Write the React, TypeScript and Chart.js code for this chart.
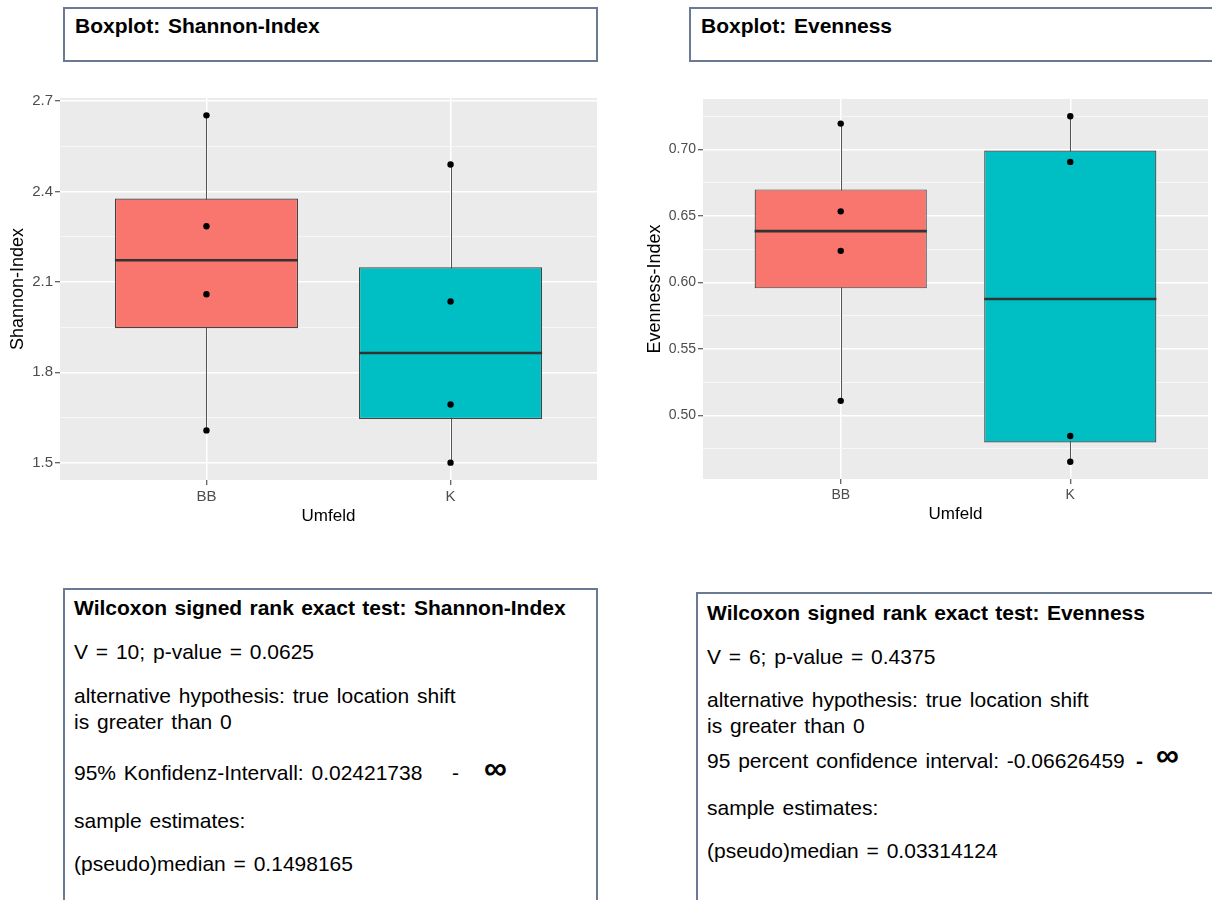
import React, { useEffect, useRef } from 'react';
import { Chart, registerables } from 'chart.js';

Chart.register(...registerables);

// ---------- data ----------
const categories = ['BB', 'K'];
const shannonBB = [2.653, 2.285, 2.059, 1.607];
const shannonK = [2.49, 2.035, 1.693, 1.5];
const shannonMajorTicks = [1.5, 1.8, 2.1, 2.4, 2.7];
const evennessBB = [0.7195, 0.6535, 0.6238, 0.511];
const evennessK = [0.725, 0.6907, 0.4845, 0.4652];
const evennessMajorTicks = [0.5, 0.55, 0.6, 0.65, 0.7];
const groupColors = ['#F8766D', '#00BFC4'];

const shannonTestTitle = 'Wilcoxon signed rank exact test: Shannon-Index';
const shannonTestLines = [
  'V = 10; p-value = 0.0625',
  'alternative hypothesis: true location shift',
  'is greater than 0',
  '95% Konfidenz-Intervall: 0.02421738',
  'sample estimates:',
  '(pseudo)median = 0.1498165',
];
const evennessTestTitle = 'Wilcoxon signed rank exact test: Evenness';
const evennessTestLines = [
  'V = 6; p-value = 0.4375',
  'alternative hypothesis: true location shift',
  'is greater than 0',
  '95 percent confidence interval: -0.06626459',
  'sample estimates:',
  '(pseudo)median = 0.03314124',
];

const FONT = '"Liberation Sans", Arial, Helvetica, sans-serif';

// ---------- helpers ----------
function quantile(sorted: number[], p: number) {
  const h = (sorted.length - 1) * p;
  const lo = Math.floor(h);
  const hi = Math.ceil(h);
  return sorted[lo] + (h - lo) * (sorted[hi] - sorted[lo]);
}
function boxStats(values: number[]) {
  const s = [...values].sort((a, b) => a - b);
  return {
    min: s[0],
    q1: quantile(s, 0.25),
    median: quantile(s, 0.5),
    q3: quantile(s, 0.75),
    max: s[s.length - 1],
  };
}

type ChartProps = {
  groups: number[][];
  majorTicks: number[];
  decimals: number;
  yTitle: string;
  left: number;
  top: number;
  width: number;
  height: number;
  padTop: number;
  padRight: number;
  yAxisWidth: number;
  xAxisHeight: number;
  yTitlePad: number;
  xTitlePad: number;
  tickFont: number;
  yTitleFont: number;
  xTitleFont: number;
};

function BoxChart(props: ChartProps) {
  const ref = useRef<HTMLCanvasElement | null>(null);
  useEffect(() => {
    const p = props;
    const stats = p.groups.map(boxStats);
    const all = p.groups.flat();
    const lo = Math.min(...all);
    const hi = Math.max(...all);
    const span = hi - lo;
    const yMin = lo - 0.05 * span;
    const yMax = hi + 0.05 * span;
    const step = p.majorTicks[1] - p.majorTicks[0];
    const tickDefs: { value: number; isMajor: boolean }[] = [];
    p.majorTicks.forEach((m) => {
      tickDefs.push({ value: m - step / 2, isMajor: false });
      tickDefs.push({ value: m, isMajor: true });
    });
    tickDefs.push({ value: p.majorTicks[p.majorTicks.length - 1] + step / 2, isMajor: false });
    const visibleTicks = tickDefs.filter((t) => t.value >= yMin && t.value <= yMax);

    const bgPlugin = {
      id: 'panelBg',
      beforeDraw(chart: any) {
        const { ctx, chartArea } = chart;
        ctx.save();
        ctx.fillStyle = '#EBEBEB';
        ctx.fillRect(chartArea.left, chartArea.top, chartArea.right - chartArea.left, chartArea.bottom - chartArea.top);
        ctx.restore();
      },
    };
    const whiskerPlugin = {
      id: 'whiskers',
      beforeDatasetsDraw(chart: any) {
        const { ctx, scales } = chart;
        ctx.save();
        ctx.strokeStyle = '#555555';
        ctx.lineWidth = 1;
        stats.forEach((s, i) => {
          const x = Math.round(scales.x.getPixelForValue(i)) + 0.5;
          ctx.beginPath();
          ctx.moveTo(x, scales.y.getPixelForValue(s.max));
          ctx.lineTo(x, scales.y.getPixelForValue(s.min));
          ctx.stroke();
        });
        ctx.restore();
      },
    };
    const medianPlugin = {
      id: 'medians',
      afterDatasetDraw(chart: any, args: any) {
        if (args.meta.type !== 'bar') return;
        const { ctx, scales } = chart;
        ctx.save();
        ctx.strokeStyle = '#333333';
        ctx.lineWidth = 2.6;
        args.meta.data.forEach((el: any, i: number) => {
          const y = scales.y.getPixelForValue(stats[i].median);
          ctx.beginPath();
          ctx.moveTo(el.x - el.width / 2, y);
          ctx.lineTo(el.x + el.width / 2, y);
          ctx.stroke();
        });
        ctx.restore();
      },
    };

    const chart = new Chart(ref.current as HTMLCanvasElement, {
      type: 'bar',
      data: {
        datasets: [
          {
            type: 'bar',
            data: stats.map((s, i) => ({ x: i, y: [s.q1, s.q3] })) as any,
            backgroundColor: groupColors,
            borderColor: '#444444',
            borderWidth: 1.2,
            borderSkipped: false,
            barPercentage: 0.75,
            categoryPercentage: 1,
            order: 2,
          } as any,
          {
            type: 'scatter',
            data: p.groups.flatMap((g, i) => g.map((v) => ({ x: i, y: v }))),
            backgroundColor: '#000000',
            borderColor: '#000000',
            borderWidth: 0,
            pointRadius: 3.2,
            order: 1,
          } as any,
        ],
      },
      options: {
        responsive: false,
        animation: false,
        devicePixelRatio: 1,
        layout: { padding: { top: p.padTop, right: p.padRight, left: 0, bottom: 0 } },
        plugins: { legend: { display: false }, tooltip: { enabled: false } },
        scales: {
          x: {
            type: 'linear',
            min: -0.6,
            max: categories.length - 1 + 0.6,
            offset: false,
            border: { display: false },
            grid: {
              offset: false,
              color: '#FFFFFF',
              lineWidth: 1.5,
              drawTicks: true,
              tickLength: 5,
              tickColor: '#333333',
              tickWidth: 1,
            },
            ticks: {
              autoSkip: false,
              maxRotation: 0,
              padding: 3,
              color: '#4D4D4D',
              font: { family: FONT, size: p.tickFont },
              callback: (v: any) => categories[v] ?? '',
            },
            afterBuildTicks: (s: any) => {
              s.ticks = categories.map((_, i) => ({ value: i }));
            },
            afterFit: (s: any) => {
              s.height = p.xAxisHeight;
            },
            title: {
              display: true,
              text: 'Umfeld',
              color: '#000000',
              font: { family: FONT, size: p.xTitleFont },
              padding: { top: 0, bottom: p.xTitlePad },
            },
          },
          y: {
            type: 'linear',
            min: yMin,
            max: yMax,
            border: { display: false },
            grid: {
              color: (c: any) => (c.tick && c.tick.isMajor ? '#FFFFFF' : '#F7F7F7'),
              lineWidth: (c: any) => (c.tick && c.tick.isMajor ? 1.5 : 1),
              drawTicks: true,
              tickLength: 5,
              tickColor: (c: any) => (c.tick && c.tick.isMajor ? '#333333' : 'rgba(0,0,0,0)'),
              tickWidth: 1,
            },
            ticks: {
              autoSkip: false,
              padding: 2,
              color: '#4D4D4D',
              font: { family: FONT, size: p.tickFont },
              callback: (v: any, i: number, ticks: any[]) =>
                ticks[i] && ticks[i].isMajor ? Number(v).toFixed(p.decimals) : '',
            },
            afterBuildTicks: (s: any) => {
              s.ticks = visibleTicks.map((t) => ({ value: t.value, isMajor: t.isMajor }));
            },
            afterFit: (s: any) => {
              s.width = p.yAxisWidth;
            },
            title: {
              display: true,
              text: p.yTitle,
              color: '#000000',
              font: { family: FONT, size: p.yTitleFont },
              padding: { top: p.yTitlePad, bottom: 0 },
            },
          },
        },
      } as any,
      plugins: [bgPlugin, whiskerPlugin, medianPlugin],
    });
    return () => chart.destroy();
  }, []);
  return (
    <canvas
      ref={ref}
      width={props.width}
      height={props.height}
      style={{ position: 'absolute', left: props.left, top: props.top, width: props.width, height: props.height }}
    />
  );
}

function Line(props: { x: number; cy: number; text: string; size?: number; bold?: boolean; lh?: number; ws?: number }) {
  const lh = props.lh ?? 26;
  return (
    <div
      style={{
        position: 'absolute',
        left: props.x,
        top: props.cy - lh / 2,
        lineHeight: lh + 'px',
        fontSize: props.size ?? 21,
        fontWeight: props.bold ? 700 : 400,
        fontFamily: FONT,
        color: '#000000',
        whiteSpace: 'pre',
        wordSpacing: (props.ws ?? 0) + 'px',
      }}
    >
      {props.text}
    </div>
  );
}

const boxBorder = '2px solid #6B7A93';

export default function App() {
  const leftY = [652, 696, 722, 773, 821, 864];
  const rightY = [657, 700, 726, 761, 808, 851];
  return (
    <div style={{ position: 'absolute', left: 0, top: 0, width: 1212, height: 900, overflow: 'hidden', background: '#FFFFFF' }}>
      {/* title boxes */}
      <div style={{ position: 'absolute', left: 63, top: 7, width: 535, height: 55, border: boxBorder, boxSizing: 'border-box' }} />
      <div style={{ position: 'absolute', left: 689, top: 7, width: 560, height: 55, border: boxBorder, boxSizing: 'border-box' }} />
      <Line x={75} cy={26} text="Boxplot: Shannon-Index" bold ws={2} />
      <Line x={701} cy={26} text="Boxplot: Evenness" bold ws={2} />

      <BoxChart
        groups={[shannonBB, shannonK]}
        majorTicks={shannonMajorTicks}
        decimals={1}
        yTitle="Shannon-Index"
        left={0}
        top={70}
        width={610}
        height={457}
        padTop={28}
        padRight={13}
        yAxisWidth={60}
        xAxisHeight={47}
        yTitlePad={7}
        xTitlePad={0}
        tickFont={15}
        yTitleFont={18}
        xTitleFont={17}
      />
      <BoxChart
        groups={[evennessBB, evennessK]}
        majorTicks={evennessMajorTicks}
        decimals={2}
        yTitle="Evenness-Index"
        left={610}
        top={70}
        width={602}
        height={457}
        padTop={29}
        padRight={3}
        yAxisWidth={93}
        xAxisHeight={48}
        yTitlePad={34}
        xTitlePad={2}
        tickFont={14}
        yTitleFont={18}
        xTitleFont={17}
      />

      {/* test result boxes */}
      <div style={{ position: 'absolute', left: 63, top: 588, width: 535, height: 340, border: boxBorder, boxSizing: 'border-box' }} />
      <div style={{ position: 'absolute', left: 696, top: 592, width: 560, height: 340, border: boxBorder, boxSizing: 'border-box' }} />

      <Line x={74} cy={608} text={shannonTestTitle} bold ws={1.5} />
      {shannonTestLines.map((t, i) => (
        <Line key={'s' + i} x={74} cy={leftY[i]} text={t} ws={2} />
      ))}
      <Line x={452} cy={773} text="-" />
      <Line x={484} cy={768} text="∞" size={32} bold lh={36} />

      <Line x={707} cy={613} text={evennessTestTitle} bold ws={1.5} />
      {evennessTestLines.map((t, i) => (
        <Line key={'e' + i} x={707} cy={rightY[i]} text={t} ws={2} />
      ))}
      <Line x={1136} cy={761} text="-" bold />
      <Line x={1156} cy={755} text="∞" size={32} bold lh={36} />
    </div>
  );
}
